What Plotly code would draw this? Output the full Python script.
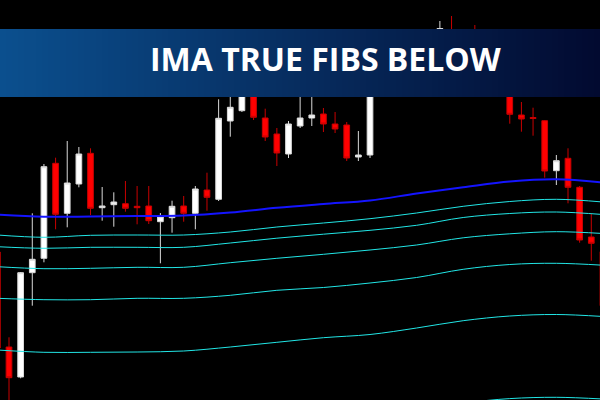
import plotly.graph_objects as go

# OHLC per bar (price units, bar 0 is the partly cut-off one on the left)
bar_idx = list(range(53))
opens = [148, 53, 23, 127.3, 141.7, 236.7, 186.7, 216, 246.7, 192.3, 195.3, 196.3, 193.7, 194,
         178.3, 182.3, 194, 186.7, 210, 200.7, 279, 289.3, 325, 282, 266, 246, 274, 282, 286,
         276, 275, 243, 245, 328, 312, 334, 320, 348, 370.5, 365, 340, 360, 330, 318, 310, 285,
         282.5, 279.3, 229.3, 241.7, 212.7, 163, 148.3]
highs = [152, 62.7, 128, 186.7, 236, 242.3, 259, 253, 251.7, 213, 207.7, 219, 214, 214, 187,
         199.3, 204, 214, 227.3, 300.7, 315, 330, 335, 291.3, 272, 279, 310, 308, 292, 288, 278,
         269, 338, 340, 345, 342, 360, 368, 379, 384, 350, 375, 340, 325, 315, 298, 292.3, 280,
         245, 251.7, 214, 186, 152]
lows = [48, -5, 21.7, 94.3, 137.7, 170.7, 172.7, 212.7, 185, 179.3, 173.3, 188.3, 175.7, 176,
        136.7, 167.3, 178.3, 170.7, 189.3, 199, 263.3, 288, 280, 259, 234, 242, 272, 274, 268,
        267, 239, 239, 242, 308, 308, 315, 316, 340, 355, 335, 320, 325, 310, 305, 276.3, 268.3,
        264.3, 222.3, 215, 196.7, 157.3, 139.3, 82]
closes = [52, 22.3, 127.3, 140.7, 233.3, 185.7, 217, 246, 191.7, 194, 198, 191.7, 192.3, 179.3,
          183.3, 193.7, 186.7, 211, 202.7, 281.7, 292.7, 320, 282.7, 263, 247, 276, 282, 285, 276,
          271, 242, 245, 330, 312, 335, 320, 350, 365, 371.5, 340, 325, 330, 315, 308, 285.7, 281,
          281.5, 229, 239.3, 212.7, 160, 156.7, 94.3]

# moving average and the fib levels below it, sampled every 4 bars
line_idx = list(range(0, 53, 4))
ima = [185.5, 183.3, 183.5, 184, 184.5, 187.5, 192.2, 196, 199.5, 206.5, 212.7, 218.5, 220.7, 217.5]
fib_levels = [
    [165, 162.7, 164.7, 165, 165, 168, 173, 177, 181.3, 187, 193.7, 198.5, 200.7, 198],
    [153.3, 151.7, 152.7, 152.7, 152.7, 157, 161.8, 165.8, 169.7, 174.7, 182.5, 186.5, 188, 185.5],
    [133.3, 131.3, 131.7, 132.7, 132.7, 137.3, 141.7, 145.7, 150, 155, 162.2, 166.2, 168.3, 166.5],
    [101.7, 100.3, 100.3, 101.7, 101.7, 104.7, 109.7, 112.5, 117, 122.5, 130.7, 135.5, 136.7, 134.8],
    [50, 47.7, 47.7, 48, 49, 53, 57.7, 62.3, 65.5, 72, 79.3, 84, 85.5, 83.5],
    [-33, -36.5, -36.5, -38, -35, -30, -25.5, -18, -17, -9, -3, 1.4, 2.7, 1],
]

title_text = "IMA TRUE FIBS BELOW"

fig = go.Figure()

fig.add_trace(go.Candlestick(
    x=bar_idx, open=opens, high=highs, low=lows, close=closes,
    increasing=dict(fillcolor='#ffffff', line=dict(color='#d9d9d9', width=1)),
    decreasing=dict(fillcolor='#ff0000', line=dict(color='#c80000', width=1)),
    showlegend=False,
))

for lvl in fib_levels:
    fig.add_trace(go.Scatter(
        x=line_idx, y=lvl, mode='lines', line=dict(color='#22e6e6', width=1, shape='spline'),
        showlegend=False,
    ))

fig.add_trace(go.Scatter(
    x=line_idx, y=ima, mode='lines', line=dict(color='#1414ff', width=2, shape='spline'),
    showlegend=False,
))

# banner with a horizontal gradient, built from thin strips
n_strips = 100
left_rgb = (11, 79, 142)
right_rgb = (2, 10, 48)
banner = []
for i in range(n_strips):
    t = i / (n_strips - 1)
    c = tuple(round(a + (b - a) * t) for a, b in zip(left_rgb, right_rgb))
    banner.append(dict(
        type='rect', xref='paper', yref='paper',
        x0=i / n_strips, x1=(i + 1) / n_strips + 0.002, y0=0.7575, y1=0.9275,
        fillcolor='rgb(%d,%d,%d)' % c, line=dict(width=0), layer='above',
    ))

fig.update_layout(
    width=600, height=400,
    margin=dict(l=0, r=0, t=0, b=0),
    paper_bgcolor='#000000', plot_bgcolor='#000000',
    xaxis=dict(range=[0.2275, 51.748], visible=False, rangeslider=dict(visible=False)),
    yaxis=dict(range=[0, 400], visible=False),
    shapes=banner,
    annotations=[dict(
        x=0.5433, y=0.853, xref='paper', yref='paper',
        text='<b>' + title_text + '</b>', showarrow=False,
        font=dict(family='Open Sans', size=32, color='#ffffff'),
        xanchor='center', yanchor='middle',
    )],
)

# drop the default page margin so the chart sits flush in the window
fig.write_html(
    "out.html",
    config={'displayModeBar': False},
    post_script="document.body.style.margin='0';document.body.style.background='#000';",
)
